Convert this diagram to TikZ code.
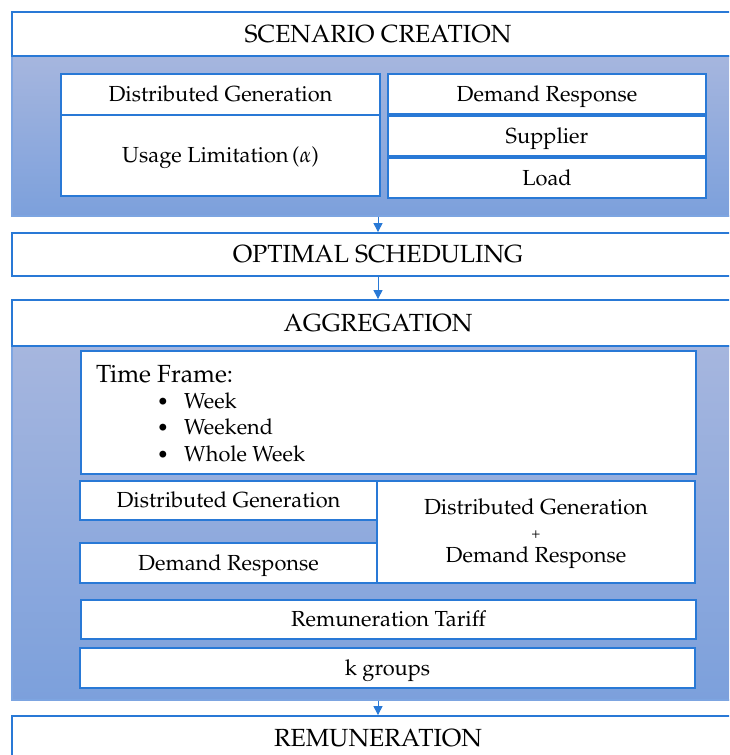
\documentclass[tikz,border=0pt]{standalone}
\usepackage[T1]{fontenc}
\usepackage{mathpazo}
\usetikzlibrary{arrows.meta}
\definecolor{boxblue}{RGB}{41,121,214}
\definecolor{panelline}{RGB}{125,165,225}
\definecolor{paneltop}{RGB}{166,182,222}
\definecolor{panelbot}{RGB}{124,160,220}

\begin{document}
\begin{tikzpicture}[x=1pt, y=-1pt,
  box/.style={draw=boxblue, line width=1.8pt, fill=white, inner sep=0pt, text height=15.3pt, text depth=1pt, font=\fontsize{21.8}{26}\selectfont},
  head/.style={box, text height=17.4pt, text depth=0.5pt, font=\fontsize{24.8}{28}\selectfont},
  panel/.style={draw=panelline, line width=1.2pt, top color=paneltop, bottom color=panelbot, inner sep=0pt},
  item/.style={anchor=base west, inner sep=0pt, font=\fontsize{21.7}{24}\selectfont},
  flow/.style={draw=boxblue, line width=1pt, -{Triangle[length=9pt,width=9pt]}}]

\clip (0,0) rectangle (729,755);

% Panels
\node[panel, minimum width=732pt, minimum height=160pt] (p1) at (378,136) {};
\node[panel, minimum width=732pt, minimum height=354pt] (p2) at (378,523) {};

% Stages
\node[head, minimum width=732pt, minimum height=44pt] (scen) at (378,34) {SCENARIO CREATION};
\node[head, minimum width=732pt, minimum height=43pt] (sched) at (378,254.5) {OPTIMAL SCHEDULING};
\node[head, minimum width=732pt, minimum height=46pt] (aggr) at (378,323) {AGGREGATION};
\node[head, minimum width=732pt, minimum height=44pt] (remun) at (378,738) {REMUNERATION};

% Scenario creation
\node[box, minimum width=319pt, minimum height=41pt] (dg1) at (220.5,94.5) {Distributed Generation};
\node[box, minimum width=319pt, minimum height=81pt] (usage) at (220.5,155.5) {Usage Limitation\,($\alpha$)};
\node[box, minimum width=318pt, minimum height=40pt] (dr1) at (547,94) {Demand Response};
\node[box, minimum width=318pt, minimum height=40pt] (supp) at (547,136) {Supplier};
\node[box, minimum width=318pt, minimum height=40pt] (load) at (547,178) {Load};

% Aggregation
\node[box, minimum width=615pt, minimum height=123pt] (tf) at (388.5,412.5) {};
\node[item, font=\fontsize{24.8}{28}\selectfont] (tfhead) at (96,382) {Time Frame:};
\foreach \t [count=\i] in {Week, Weekend, Whole Week} {
  \node[anchor=base, inner sep=0pt, font=\fontsize{20}{24}\selectfont] (b\i) at (163,{381.5+26.5*\i}) {\textbullet};
  \node[item] (tf\i) at (184,{381.5+26.5*\i}) {\t};
}
\node[box, minimum width=297pt, minimum height=39pt] (dg2) at (228.5,500.5) {Distributed Generation};
\node[box, minimum width=297pt, minimum height=40pt] (dr2) at (228.5,563) {Demand Response};
\node[box, minimum width=318pt, minimum height=102pt] (both) at (536,532) {};
\node[align=center, inner sep=0pt, font=\fontsize{21.8}{26}\selectfont] (bothtext) at (536,534)
  {Distributed Generation\\[-2pt]{\fontsize{15}{18}\selectfont +}\\[-2pt]Demand Response};
\node[box, minimum width=615pt, minimum height=39pt] (tariff) at (388.5,619.5) {Remuneration Tariff};
\node[box, minimum width=615pt, minimum height=40pt] (kg) at (387.5,668) {k groups};

% Flow
\draw[flow] (p1.south) -- (sched.north);
\draw[flow] (sched.south) -- (aggr.north);
\draw[flow] (p2.south) -- (remun.north);
\end{tikzpicture}
\end{document}
